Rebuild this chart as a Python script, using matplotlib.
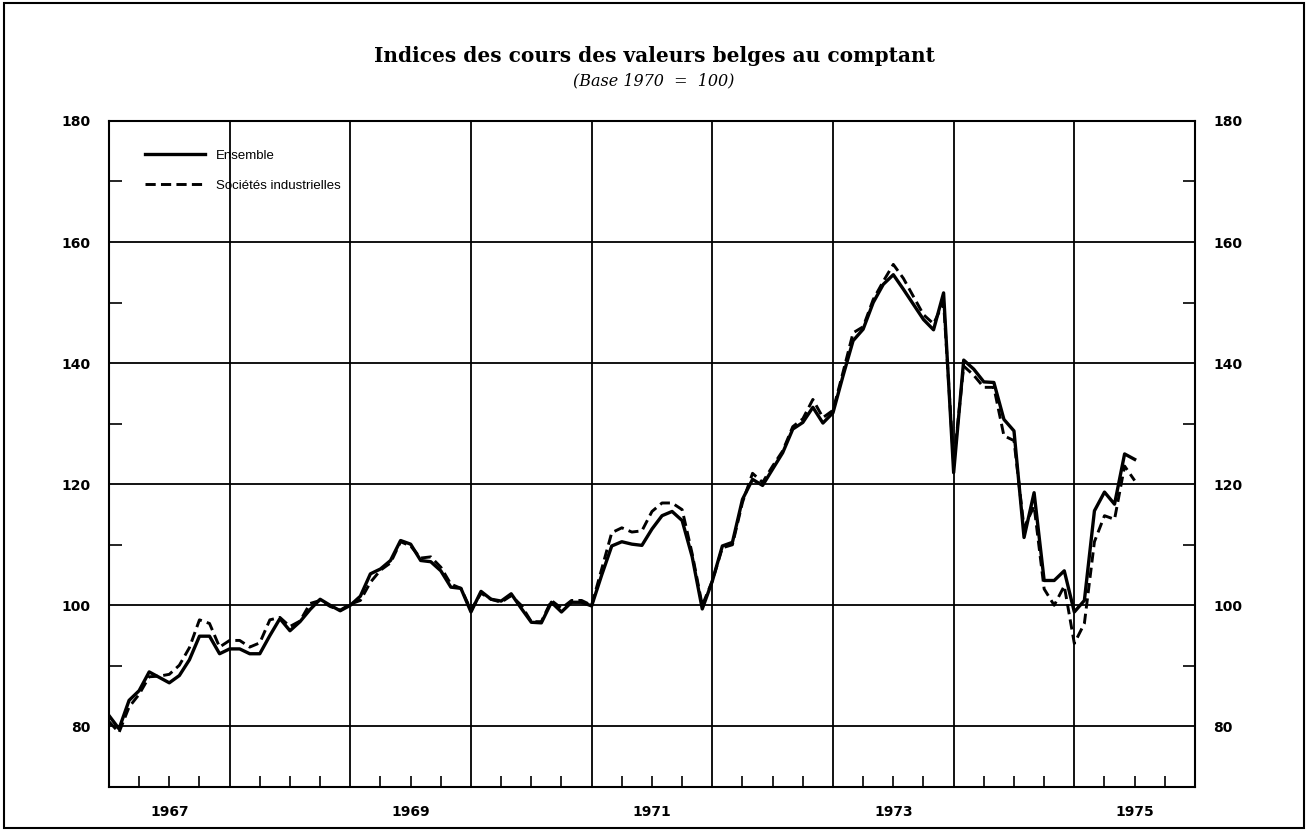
import numpy as np
import matplotlib
matplotlib.use('Agg')
import matplotlib.pyplot as plt
from matplotlib.patches import Rectangle

# Valeurs mensuelles (fin de mois, déc. 1966 -> juin 1975)
ensemble = [
    81.8, 79.6, 84.3, 85.9, 89.0, 88.1, 87.2, 88.4, 91.0, 94.9, 94.9, 92.0,
    92.8, 92.8, 92.0, 92.0, 95.0, 97.8, 95.8, 97.3, 99.3, 101.0, 100.0, 99.1,
    100.0, 101.5, 105.2, 106.0, 107.4, 110.7, 110.1, 107.4, 107.2, 105.7, 103.0, 102.8,
    98.9, 102.3, 101.0, 100.7, 101.9, 99.5, 97.2, 97.1, 100.5, 98.9, 100.5, 100.5,
    99.9, 105.0, 109.8, 110.5, 110.1, 109.9, 112.6, 114.8, 115.5, 114.0, 108.0, 99.4,
    104.0, 109.8, 110.4, 117.5, 120.8, 119.8, 122.5, 125.2, 129.1, 130.2, 132.7, 130.1,
    131.8, 137.9, 143.7, 145.6, 150.0, 153.0, 154.6, 152.2, 149.7, 147.2, 145.5, 151.6,
    121.9, 140.5, 139.0, 136.9, 136.8, 130.7, 128.8, 111.2, 118.6, 104.1, 104.1, 105.7,
    98.9, 100.8, 115.6, 118.7, 116.7, 125.0, 124.1,
]
industrielles = [
    80.8, 79.0, 83.2, 85.3, 88.2, 88.3, 88.6, 90.1, 93.0, 97.6, 97.0, 93.1,
    94.2, 94.2, 93.1, 93.8, 97.6, 98.0, 96.5, 97.4, 100.3, 100.8, 99.8, 99.2,
    100.2, 100.8, 103.8, 105.8, 107.0, 110.5, 109.8, 107.8, 108.0, 106.3, 103.5, 102.8,
    99.2, 102.0, 101.0, 100.5, 101.6, 100.0, 97.3, 97.3, 100.8, 99.5, 100.8, 100.8,
    100.0, 106.0, 112.0, 112.8, 112.1, 112.3, 115.5, 116.9, 116.9, 115.8, 108.5, 100.0,
    104.0, 109.5, 110.0, 117.0, 121.8, 120.3, 123.0, 125.5, 129.5, 130.8, 134.0, 131.0,
    132.2, 138.5, 145.0, 146.0, 150.5, 153.5, 156.3, 154.0, 151.0, 148.0, 146.5, 150.0,
    123.5, 139.5, 138.0, 136.0, 136.0, 128.0, 127.2, 112.8, 116.4, 102.7, 100.0, 103.2,
    93.7, 97.0, 110.5, 114.8, 114.2, 123.0, 120.6,
]
annees_labels = [1967, 1969, 1971, 1973, 1975]
y_labels = [80, 100, 120, 140, 160, 180]

# position temporelle de chaque point (en années)
mois = 1967 + np.arange(len(ensemble)) / 12

fig = plt.figure(figsize=(13.08, 8.31), dpi=100)
ax = fig.add_axes([0.0833, 0.053, 0.8303, 0.8015])

ax.plot(mois, ensemble, color='black', lw=2.4, label='Ensemble')
ax.plot(mois, industrielles, color='black', lw=2.1, ls=(0, (3.5, 1.8)),
        label='Sociétés industrielles')

ax.set_xlim(1967, 1976)
ax.set_ylim(70, 180)

# quadrillage : années et paliers de 20
ax.set_xticks(range(1968, 1976))
ax.set_xticks(np.arange(1967, 1976, 0.25), minor=True)
ax.set_yticks(y_labels)
ax.set_yticks(range(90, 180, 20), minor=True)
ax.grid(True, which='major', color='black', lw=1.3)
ax.tick_params(axis='x', which='major', length=0, labelbottom=False)
ax.tick_params(axis='x', which='minor', direction='in', length=8, width=1.2, top=False)
ax.tick_params(axis='y', which='major', length=0, left=True, right=True,
               labelleft=True, labelright=True, pad=13)
ax.tick_params(axis='y', which='minor', direction='in', length=9, width=1.2,
               left=True, right=True)
for lab in ax.get_yticklabels():
    lab.set_fontfamily('DejaVu Sans')
    lab.set_fontweight('bold')
    lab.set_fontsize(10)
for s in ax.spines.values():
    s.set_linewidth(1.5)

# années au milieu de chaque période
for a in annees_labels:
    ax.text(a + 0.5, -0.038, str(a), transform=ax.get_xaxis_transform(),
            ha='center', va='center', fontsize=10, fontweight='bold',
            family='DejaVu Sans')

leg = ax.legend(loc='upper left', bbox_to_anchor=(0.022, 0.975), frameon=False,
                handlelength=4.6, handletextpad=0.8, labelspacing=1.35,
                prop={'family': 'Liberation Sans', 'size': 9.5})

fig.text(0.5, 0.933, 'Indices des cours des valeurs belges au comptant',
         ha='center', va='center', fontsize=14.5, fontweight='bold', family='DejaVu Serif')
fig.text(0.5, 0.903, '(Base 1970  =  100)', ha='center', va='center',
         fontsize=11.5, style='italic', family='DejaVu Serif')

# cadre extérieur
fig.add_artist(Rectangle((0.003, 0.004), 0.994, 0.992, transform=fig.transFigure,
                         fill=False, lw=1.5, color='black'))

fig.savefig('out.png', dpi=100)
